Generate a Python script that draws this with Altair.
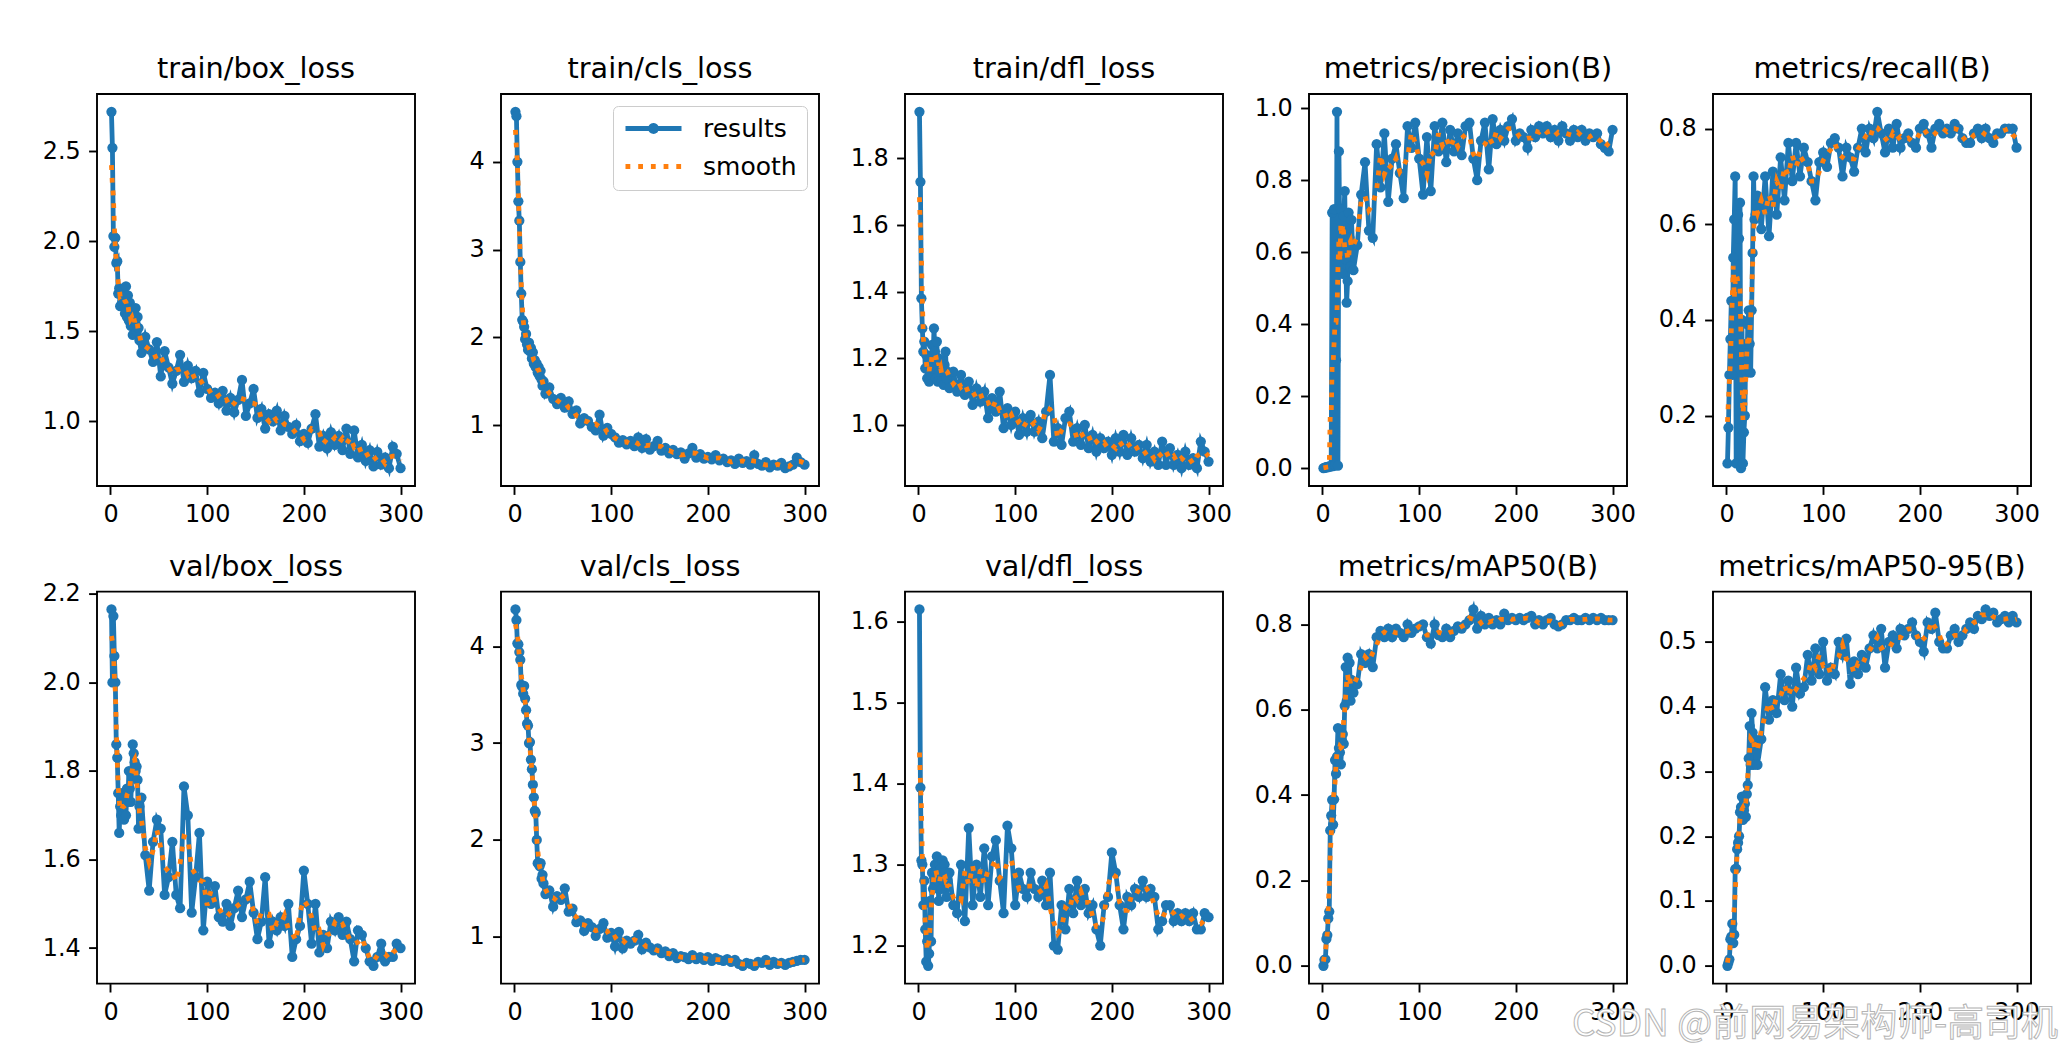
import altair as alt
import pandas as pd

# Training epochs: every epoch for the first 30, then every 4th epoch up to 300
EPOCHS = list(range(1, 31)) + list(range(32, 301, 4))

train_box_loss = [
    2.72, 2.52, 2.03, 1.97, 2.02, 1.88, 1.89, 1.71, 1.74, 1.64,
    1.72, 1.66, 1.73, 1.68, 1.60, 1.75, 1.58, 1.70, 1.56, 1.66,
    1.53, 1.62, 1.48, 1.60, 1.55, 1.63, 1.50, 1.58, 1.52, 1.45,
    1.38, 1.47, 1.40, 1.33, 1.44, 1.25, 1.39, 1.30, 1.21, 1.28,
    1.37, 1.22, 1.31, 1.24, 1.28, 1.16, 1.27, 1.18, 1.13, 1.16,
    1.10, 1.17, 1.06, 1.13, 1.05, 1.12, 1.23, 1.03, 1.10, 1.18,
    1.02, 1.07, 0.96, 1.04, 1.00, 1.06, 0.95, 1.03, 0.97, 0.93,
    0.98, 0.89, 0.93, 0.88, 0.96, 1.04, 0.86, 0.92, 0.85, 0.94,
    0.87, 0.92, 0.84, 0.96, 0.82, 0.95, 0.80, 0.87, 0.78, 0.84,
    0.75, 0.83, 0.76, 0.80, 0.74, 0.86, 0.82, 0.74,
]
train_cls_loss = [
    4.57, 4.52, 4.00, 3.55, 3.33, 2.86, 2.50, 2.20, 2.18, 2.12,
    1.98, 2.04, 1.92, 1.86, 1.94, 1.84, 1.88, 1.76, 1.83, 1.70,
    1.74, 1.66, 1.70, 1.60, 1.66, 1.56, 1.62, 1.52, 1.45, 1.50,
    1.36, 1.43, 1.30, 1.24, 1.31, 1.20, 1.27, 1.13, 1.17, 1.02,
    1.08, 1.05, 0.98, 0.94, 1.12, 0.88, 0.97, 0.90, 0.86, 0.80,
    0.83, 0.78, 0.82, 0.76, 0.86, 0.74, 0.84, 0.72, 0.76, 0.82,
    0.71, 0.74, 0.68, 0.72, 0.67, 0.69, 0.62, 0.68, 0.74, 0.63,
    0.67, 0.62, 0.64, 0.61, 0.66, 0.60, 0.62, 0.58, 0.60, 0.56,
    0.62, 0.57, 0.59, 0.55, 0.66, 0.56, 0.54, 0.58, 0.52, 0.55,
    0.54, 0.57, 0.51, 0.53, 0.55, 0.63, 0.58, 0.55,
]
train_dfl_loss = [
    1.94, 1.73, 1.38, 1.29, 1.22, 1.25, 1.17, 1.21, 1.14, 1.19,
    1.13, 1.20, 1.15, 1.24, 1.17, 1.29, 1.22, 1.14, 1.25, 1.13,
    1.20, 1.16, 1.19, 1.13, 1.17, 1.12, 1.18, 1.22, 1.14, 1.16,
    1.11, 1.16, 1.10, 1.15, 1.09, 1.13, 1.06, 1.11, 1.07, 1.10,
    1.02, 1.08, 1.04, 1.10, 0.99, 1.05, 1.00, 1.04, 0.97, 1.02,
    0.98, 1.03, 0.98, 1.01, 0.96, 1.04, 1.15, 0.95, 0.99, 0.94,
    1.02, 1.04, 0.95, 0.99, 0.94, 1.00, 0.93, 0.97, 0.92, 0.96,
    0.93, 0.95, 0.91, 0.96, 0.92, 0.97, 0.91, 0.96, 0.92, 0.94,
    0.90, 0.94, 0.89, 0.92, 0.88, 0.95, 0.88, 0.93, 0.88, 0.91,
    0.87, 0.92, 0.88, 0.90, 0.87, 0.95, 0.92, 0.89,
]
precision = [
    0.000, 0.001, 0.002, 0.003, 0.002, 0.004, 0.005, 0.004, 0.006, 0.71,
    0.006, 0.72, 0.008, 0.30, 0.99, 0.007, 0.88, 0.60, 0.72, 0.66,
    0.54, 0.70, 0.77, 0.58, 0.46, 0.52, 0.71, 0.64, 0.56, 0.69,
    0.55, 0.62, 0.76, 0.85, 0.66, 0.64, 0.90, 0.78, 0.93, 0.74,
    0.86, 0.90, 0.82, 0.75, 0.95, 0.89, 0.96, 0.86, 0.76, 0.92,
    0.77, 0.95, 0.88, 0.96, 0.85, 0.94, 0.88, 0.93, 0.87, 0.95,
    0.96, 0.86, 0.80, 0.91, 0.96, 0.83, 0.97, 0.90, 0.94, 0.91,
    0.95, 0.97, 0.91, 0.93, 0.92, 0.89, 0.94, 0.92, 0.95, 0.93,
    0.95, 0.92, 0.94, 0.91, 0.95, 0.93, 0.91, 0.94, 0.92, 0.94,
    0.91, 0.93, 0.92, 0.93, 0.90, 0.89, 0.88, 0.94,
]
recall = [
    0.10, 0.175, 0.285, 0.36, 0.44, 0.285, 0.53, 0.61, 0.70, 0.10,
    0.45, 0.62, 0.57, 0.645, 0.09, 0.40, 0.10, 0.165, 0.20, 0.35,
    0.29, 0.39, 0.42, 0.35, 0.29, 0.42, 0.54, 0.70, 0.61, 0.62,
    0.66, 0.59, 0.70, 0.575, 0.71, 0.62, 0.74, 0.65, 0.77, 0.69,
    0.77, 0.70, 0.76, 0.73, 0.69, 0.65, 0.73, 0.75, 0.72, 0.77,
    0.78, 0.76, 0.70, 0.76, 0.74, 0.71, 0.76, 0.80, 0.75, 0.80,
    0.78, 0.835, 0.79, 0.75, 0.80, 0.76, 0.81, 0.76, 0.78, 0.79,
    0.77, 0.76, 0.80, 0.81, 0.79, 0.76, 0.80, 0.81, 0.79, 0.80,
    0.79, 0.81, 0.80, 0.78, 0.77, 0.77, 0.79, 0.80, 0.78, 0.80,
    0.78, 0.77, 0.79, 0.79, 0.80, 0.80, 0.80, 0.76,
]
val_box_loss = [
    2.165, 2.00, 2.15, 2.06, 2.00, 1.86, 1.83, 1.75, 1.66, 1.72,
    1.70, 1.75, 1.72, 1.69, 1.74, 1.70, 1.76, 1.73, 1.80, 1.76,
    1.73, 1.79, 1.86, 1.84, 1.82, 1.80, 1.81, 1.78, 1.67, 1.72,
    1.74, 1.61, 1.53, 1.64, 1.69, 1.67, 1.52, 1.56, 1.64, 1.52,
    1.49, 1.765, 1.70, 1.48, 1.56, 1.66, 1.44, 1.55, 1.50, 1.54,
    1.47, 1.46, 1.50, 1.45, 1.49, 1.53, 1.47, 1.51, 1.55, 1.48,
    1.42, 1.46, 1.56, 1.41, 1.46, 1.44, 1.47, 1.45, 1.50, 1.38,
    1.42, 1.45, 1.575, 1.50, 1.41, 1.50, 1.39, 1.43, 1.40, 1.46,
    1.44, 1.47, 1.43, 1.46, 1.42, 1.37, 1.44, 1.43, 1.40, 1.37,
    1.36, 1.38, 1.41, 1.37, 1.38, 1.38, 1.41, 1.40,
]
val_cls_loss = [
    4.38, 4.27, 4.03, 4.02, 3.94, 3.86, 3.60, 3.58, 3.51, 3.59,
    3.46, 3.34, 3.20, 3.18, 3.00, 3.01, 2.83, 2.73, 2.57, 2.44,
    2.30, 2.28, 2.00, 1.76, 1.75, 1.73, 1.76, 1.60, 1.64, 1.55,
    1.44, 1.48, 1.31, 1.42, 1.38, 1.50, 1.26, 1.29, 1.15, 1.17,
    1.06, 1.14, 1.10, 1.01, 1.08, 1.14, 0.99, 1.04, 0.90, 1.05,
    0.88, 0.96, 0.93, 0.96, 1.02, 0.87, 0.94, 0.89, 0.86, 0.88,
    0.83, 0.85, 0.80, 0.83, 0.78, 0.80, 0.79, 0.77, 0.81, 0.77,
    0.79, 0.76, 0.79, 0.75, 0.78, 0.76, 0.75, 0.77, 0.74, 0.76,
    0.72, 0.70, 0.73, 0.72, 0.70, 0.74, 0.73, 0.76, 0.71, 0.74,
    0.72, 0.73, 0.71, 0.73, 0.74, 0.75, 0.76, 0.76,
]
val_dfl_loss = [
    1.615, 1.395, 1.305, 1.30, 1.25, 1.28, 1.22, 1.18, 1.205, 1.175,
    1.19, 1.255, 1.205, 1.29, 1.27, 1.285, 1.30, 1.29, 1.31, 1.28,
    1.255, 1.30, 1.295, 1.27, 1.305, 1.28, 1.30, 1.29, 1.26, 1.28,
    1.29, 1.25, 1.24, 1.30, 1.23, 1.345, 1.25, 1.30, 1.26, 1.32,
    1.25, 1.31, 1.33, 1.28, 1.24, 1.348, 1.32, 1.25, 1.29, 1.27,
    1.26, 1.29, 1.27, 1.26, 1.28, 1.25, 1.29, 1.20, 1.195, 1.25,
    1.22, 1.27, 1.24, 1.28, 1.25, 1.27, 1.24, 1.25, 1.22, 1.20,
    1.25, 1.26, 1.315, 1.29, 1.25, 1.22, 1.26, 1.25, 1.27, 1.26,
    1.28, 1.26, 1.27, 1.26, 1.22, 1.23, 1.25, 1.25, 1.23, 1.24,
    1.23, 1.24, 1.23, 1.24, 1.22, 1.22, 1.24, 1.235,
]
map50 = [
    0.000, 0.014, 0.015, 0.063, 0.072, 0.111, 0.127, 0.317, 0.352, 0.389,
    0.331, 0.39, 0.482, 0.45, 0.49, 0.557, 0.51, 0.50, 0.472, 0.53,
    0.543, 0.52, 0.609, 0.70, 0.62, 0.722, 0.66, 0.71, 0.621, 0.67,
    0.64, 0.66, 0.73, 0.71, 0.73, 0.70, 0.77, 0.785, 0.77, 0.79,
    0.77, 0.79, 0.78, 0.77, 0.80, 0.78, 0.79, 0.795, 0.80, 0.77,
    0.755, 0.80, 0.775, 0.77, 0.79, 0.77, 0.785, 0.795, 0.79, 0.80,
    0.81, 0.835, 0.79, 0.82, 0.80, 0.815, 0.80, 0.81, 0.80, 0.825,
    0.81, 0.815, 0.81, 0.815, 0.81, 0.815, 0.82, 0.80, 0.81, 0.80,
    0.81, 0.815, 0.80, 0.795, 0.80, 0.81, 0.81, 0.815, 0.81, 0.81,
    0.815, 0.81, 0.815, 0.81, 0.815, 0.81, 0.81, 0.81,
]
map50_95 = [
    0.000, 0.005, 0.010, 0.041, 0.045, 0.065, 0.035, 0.048, 0.149, 0.150,
    0.180, 0.190, 0.200, 0.237, 0.245, 0.261, 0.225, 0.240, 0.250, 0.230,
    0.265, 0.279, 0.320, 0.370, 0.310, 0.390, 0.360, 0.310, 0.350, 0.340,
    0.31, 0.35, 0.43, 0.38, 0.41, 0.39, 0.45, 0.41, 0.44, 0.40,
    0.46, 0.42, 0.43, 0.48, 0.44, 0.49, 0.45, 0.50, 0.44, 0.46,
    0.45, 0.50, 0.48, 0.505, 0.435, 0.47, 0.45, 0.48, 0.46, 0.49,
    0.51, 0.49, 0.52, 0.46, 0.50, 0.51, 0.49, 0.52, 0.51, 0.52,
    0.53, 0.51, 0.50, 0.485, 0.53, 0.52, 0.545, 0.50, 0.49, 0.49,
    0.51, 0.52, 0.50, 0.51, 0.52, 0.53, 0.52, 0.54, 0.535, 0.55,
    0.54, 0.545, 0.53, 0.535, 0.54, 0.53, 0.54, 0.53,
]

# (title, series, y tick values, tick format), in reading order
PANELS = [
    ("train/box_loss", train_box_loss, [1.0, 1.5, 2.0, 2.5], ".1f"),
    ("train/cls_loss", train_cls_loss, [1, 2, 3, 4], "d"),
    ("train/dfl_loss", train_dfl_loss, [1.0, 1.2, 1.4, 1.6, 1.8], ".1f"),
    ("metrics/precision(B)", precision, [0.0, 0.2, 0.4, 0.6, 0.8, 1.0], ".1f"),
    ("metrics/recall(B)", recall, [0.2, 0.4, 0.6, 0.8], ".1f"),
    ("val/box_loss", val_box_loss, [1.4, 1.6, 1.8, 2.0, 2.2], ".1f"),
    ("val/cls_loss", val_cls_loss, [1, 2, 3, 4], "d"),
    ("val/dfl_loss", val_dfl_loss, [1.2, 1.3, 1.4, 1.5, 1.6], ".1f"),
    ("metrics/mAP50(B)", map50, [0.0, 0.2, 0.4, 0.6, 0.8], ".1f"),
    ("metrics/mAP50-95(B)", map50_95, [0.0, 0.1, 0.2, 0.3, 0.4, 0.5], ".1f"),
]
X_TICKS = [0, 100, 200, 300]
SERIES_NAMES = ["results", "smooth"]
WATERMARK = "CSDN @前网易架构师-高司机"

BLUE = "#1f77b4"
ORANGE = "#ff7f0e"
FONT = "DejaVu Sans"
PANEL_W, PANEL_H = 318, 392
LW = 4.8
SOLID = [1, 0]
DOT = [4.8, 7.9]
TITLE_SIZE = 28.7
TITLE_GAP = 15.7  # baseline of each panel title above its frame

x_pad = (max(EPOCHS) - min(EPOCHS)) * 0.05
X_DOMAIN = [min(EPOCHS) - x_pad, max(EPOCHS) + x_pad]

# legend glyphs: a line with a dot for "results", a plain line for "smooth"
RESULTS_PATH = "M-1,0L4.6,0M2.1,0A0.3,0.3,0,1,1,1.5,0A0.3,0.3,0,1,1,2.1,0Z"
SMOOTH_PATH = "M-1,0L4.6,0"

COLOR_SCALE = alt.Scale(domain=SERIES_NAMES, range=[BLUE, ORANGE])
DASH_SCALE = alt.Scale(domain=SERIES_NAMES, range=[SOLID, DOT])


def legend_def():
    return alt.Legend(
        title=None,
        orient="top-right",
        offset=12,
        padding=10,
        cornerRadius=5,
        strokeColor="#cccccc",
        fillColor="rgba(255,255,255,0.8)",
        labelFont=FONT,
        labelFontSize=25,
        labelColor="black",
        labelOffset=55,
        symbolSize=400,
        symbolStrokeWidth=LW,
        symbolOpacity=1,
        rowPadding=12,
        symbolType={"expr": f"datum.value === 'results' ? '{RESULTS_PATH}' : '{SMOOTH_PATH}'"},
    )


def panel(title, values, ticks, fmt, with_legend=False, watermark=False):
    df = pd.DataFrame({"epoch": EPOCHS, "value": values})
    lo, hi = min(values), max(values)
    pad = (hi - lo) * 0.05
    x = alt.X(
        "epoch:Q",
        scale=alt.Scale(domain=X_DOMAIN, nice=False, zero=False),
        axis=alt.Axis(values=X_TICKS, format="d", title=None, labelFlush=False),
    )
    y = alt.Y(
        "y:Q",
        scale=alt.Scale(domain=[lo - pad, hi + pad], nice=False, zero=False),
        axis=alt.Axis(values=ticks, format=fmt, title=None),
    )
    leg = legend_def() if with_legend else None
    color = alt.Color("series:N", scale=COLOR_SCALE, legend=leg)
    dash = alt.StrokeDash("series:N", scale=DASH_SCALE, legend=leg)

    # results plus a moving-average smooth, in long form
    base = (
        alt.Chart(df)
        .transform_window(s_wide="mean(value)", frame=[-2, 2], sort=[alt.SortField("epoch")])
        .transform_window(s_narrow="mean(value)", frame=[-1, 1], sort=[alt.SortField("epoch")])
        .transform_calculate(
            results="datum.value",
            smooth="datum.epoch <= 30 ? datum.s_wide : datum.s_narrow",
        )
        .transform_fold(SERIES_NAMES, as_=["series", "y"])
    )
    res = base.transform_filter(alt.datum.series == "results")
    smo = base.transform_filter(alt.datum.series == "smooth")

    line = res.mark_line(strokeWidth=LW).encode(x=x, y=y, color=color, strokeDash=dash)
    pts = res.mark_circle(size=105, opacity=1).encode(x=x, y=y, color=color)
    smooth = smo.mark_line(strokeWidth=LW, strokeCap="butt").encode(
        x=x, y=y, color=color, strokeDash=dash
    )
    # panel title, centred just above the frame
    head = alt.Chart(pd.DataFrame({"label": [title]})).mark_text(
        align="center",
        baseline="alphabetic",
        font=FONT,
        fontSize=TITLE_SIZE,
        color="black",
    ).encode(text="label:N", x=alt.value(PANEL_W / 2), y=alt.value(-TITLE_GAP))
    layers = [line, pts, smooth, head]
    if watermark:
        wm = alt.Chart(pd.DataFrame({"label": [WATERMARK]})).mark_text(
            align="right",
            baseline="alphabetic",
            font="Noto Sans CJK SC",
            fontSize=37,
            fill="white",
            stroke="#b5b5b5",
            strokeWidth=1,
        ).encode(text="label:N", x=alt.value(345), y=alt.value(444))
        layers.append(wm)
    return alt.layer(*layers).properties(width=PANEL_W, height=PANEL_H)


panels = [
    panel(t, v, tk, f, with_legend=(i == 1), watermark=(i == 9))
    for i, (t, v, tk, f) in enumerate(PANELS)
]

chart = (
    alt.concat(*panels, columns=5, spacing={"row": 105.6, "column": 86}, bounds="flush")
    .resolve_scale(color="independent", strokeDash="independent")
    .resolve_legend(color="independent", strokeDash="independent")
    .configure_view(stroke="black", strokeWidth=1.9)
    .configure_axis(
        domain=False,
        grid=False,
        ticks=True,
        tickColor="black",
        tickWidth=1.9,
        tickSize=8.4,
        labelFont=FONT,
        labelFontSize=23.9,
        labelColor="black",
        labelPadding=8.4,
    )
    .properties(background="white", padding={"left": 41, "top": 54, "right": 4, "bottom": 0})
)

chart.save("out.html", embed_options={"renderer": "svg", "actions": False})
